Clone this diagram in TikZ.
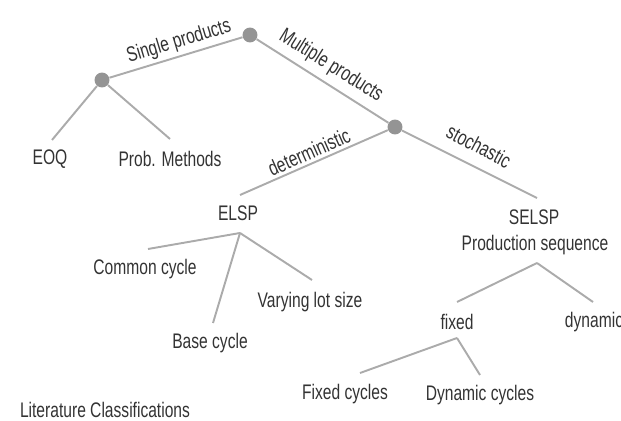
\documentclass[tikz,border=0pt]{standalone}
\usepackage{fontspec}
\setmainfont{Liberation Sans}[FakeStretch=0.74]
\begin{document}
\begin{tikzpicture}[x=0.02cm,y=-0.02cm,
  br/.style={draw=black!33,line width=1.1pt},
  dot/.style={circle,fill=black!42,inner sep=0pt,minimum size=15*0.567pt},
  lbl/.style={text=black!80,font=\fontsize{12}{14}\selectfont,inner sep=1pt},
  pt/.style={inner sep=0pt,minimum size=0pt}]
\useasboundingbox (0,0) rectangle (621,421);
% junctions
\node[dot] (top) at (250,35) {};
\node[dot] (left) at (102,80) {};
\node[dot] (right) at (395,127) {};
% leaves / texts
\node[lbl] (eoq) at (50,159) {EOQ};
\node[lbl] (prob) at (170,159) {Prob. Methods};
\node[lbl] (elsp) at (238,213) {ELSP};
\node[lbl] (selsp) at (534,217) {SELSP};
\node[lbl] (prod) at (535,245) {Production sequence};
\node[lbl] (common) at (145,269) {Common cycle};
\node[lbl] (vary) at (310,302) {Varying lot size};
\node[lbl] (base) at (210,343) {Base cycle};
\node[lbl] (fixed) at (457,322) {fixed};
\node[lbl] (dyn) at (594,322) {dynamic};
\node[lbl] (fcyc) at (345,394) {Fixed cycles};
\node[lbl] (dcyc) at (480,395) {Dynamic cycles};
\node[lbl] (lit) at (105,410) {Literature Classifications};
% connector end points
\coordinate (eoqT) at (52,140);
\coordinate (probT) at (170,139);
\coordinate (detE) at (240,195);
\coordinate (stoE) at (537,198);
\coordinate (elspB) at (240,233);
\coordinate (commonT) at (148,249);
\coordinate (baseT) at (213,323);
\coordinate (varyT) at (312,280);
\coordinate (prodB) at (537,263);
\coordinate (fixedT) at (457,302);
\coordinate (dynT) at (593,302);
\coordinate (fixedB) at (457,338);
\coordinate (fcycT) at (360,373);
\coordinate (dcycT) at (480,375);
% connectors
\draw[br] (top) -- (left);
\draw[br] (top) -- (right);
\draw[br] (left) -- (eoqT);
\draw[br] (left) -- (probT);
\draw[br] (right) -- (detE);
\draw[br] (right) -- (stoE);
\draw[br] (elspB) -- (commonT);
\draw[br] (elspB) -- (baseT);
\draw[br] (elspB) -- (varyT);
\draw[br] (prodB) -- (fixedT);
\draw[br] (prodB) -- (dynT);
\draw[br] (fixedB) -- (fcycT);
\draw[br] (fixedB) -- (dcycT);
% branch labels
\node[lbl,rotate=17] (single) at (179,42) {Single products};
\node[lbl,rotate=-32] (multi) at (331,66) {Multiple products};
\node[lbl,rotate=24] (det) at (309,152) {deterministic};
\node[lbl,rotate=-28] (sto) at (479,146) {stochastic};
\end{tikzpicture}
\end{document}
